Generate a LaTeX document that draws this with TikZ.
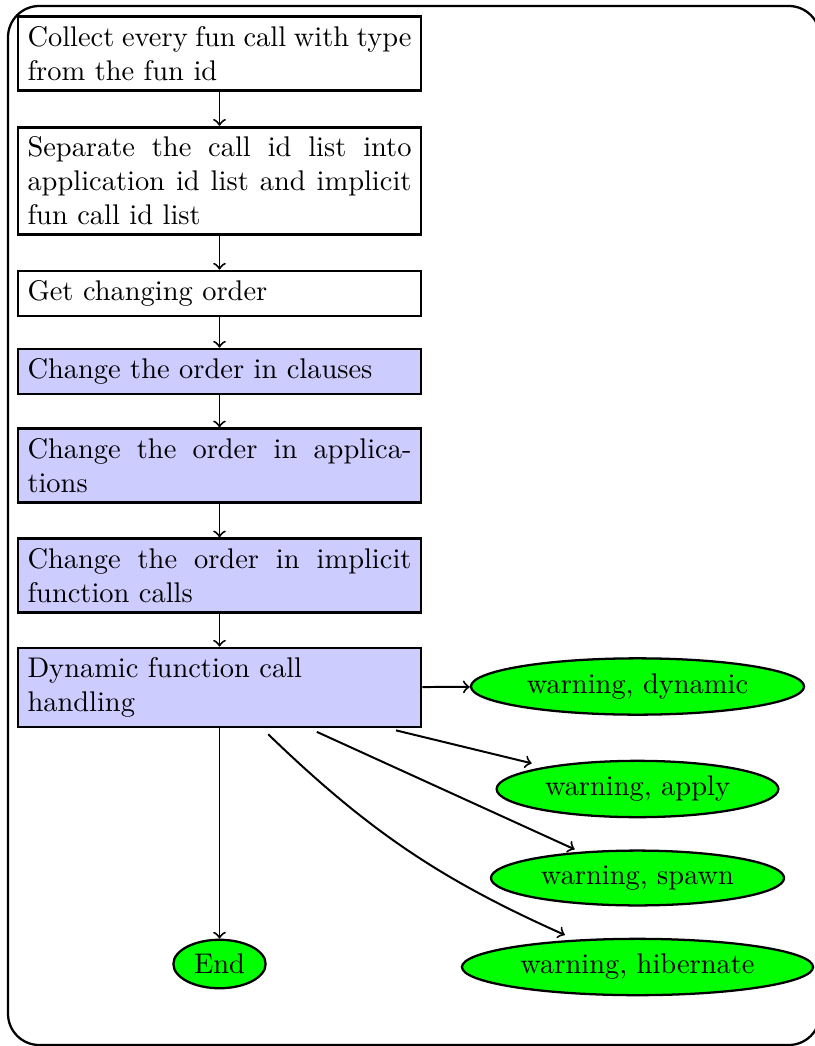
\documentclass[tikz,border=0pt]{standalone}
\usetikzlibrary{shapes.geometric,calc}
\begin{document}
\begin{tikzpicture}[x=0.3516pt,y=-0.3516pt,
  stepbox/.style={draw,line width=0.95pt,text width=135pt,align=justify,inner sep=3.33pt},
  bluebox/.style={stepbox,fill=blue!20},
  term/.style={ellipse,draw,line width=0.8pt,fill=green,inner sep=2.5pt},
  conn/.style={->,line width=0.7pt}]
\useasboundingbox (0,0) rectangle (814,1046);
\draw[line width=0.8pt,rounded corners=11pt] (8,6) rectangle (820,1045);
\node[stepbox] (b1) at (219.5,53.5) {Collect every fun call with type from the fun id};
\node[stepbox] (b2) at (219.5,181) {Separate the call id list into\linebreak application id list and implicit fun call id list};
\node[stepbox] (b3) at (219.5,293.5) {Get changing order};
\node[bluebox] (b4) at (219.5,371.5) {Change the order in clauses};
\node[bluebox] (b5) at (219.5,465.5) {Change the order in applications};
\node[bluebox] (b6) at (219.5,575.5) {Change the order in implicit function calls};
\node[bluebox] (b7) at (219.5,687.5) {Dynamic function call\\handling};
\node[term] (dyn) at (637.5,686.5) {warning, dynamic};
\node[term] (app) at (637.5,789) {warning, apply};
\node[term] (spw) at (637.5,878) {warning, spawn};
\node[term] (hib) at (637.5,967) {warning, hibernate};
\node[term] (end) at (219.5,964) {End};
\draw[conn] (b1) -- (b2);
\draw[conn] (b2) -- (b3);
\draw[conn] (b3) -- (b4);
\draw[conn] (b4) -- (b5);
\draw[conn] (b5) -- (b6);
\draw[conn] (b6) -- (b7);
\draw[conn] (b7) -- (dyn);
\draw[conn] (b7) -- (end);
\draw[conn,shorten <=3pt,shorten >=5pt] (b7) -- (app);
\draw[conn,shorten <=3pt,shorten >=2pt] (b7) -- (spw);
\draw[conn,shorten <=3pt,shorten >=4pt] (b7) to[bend right=10] (hib);
\end{tikzpicture}
\end{document}
